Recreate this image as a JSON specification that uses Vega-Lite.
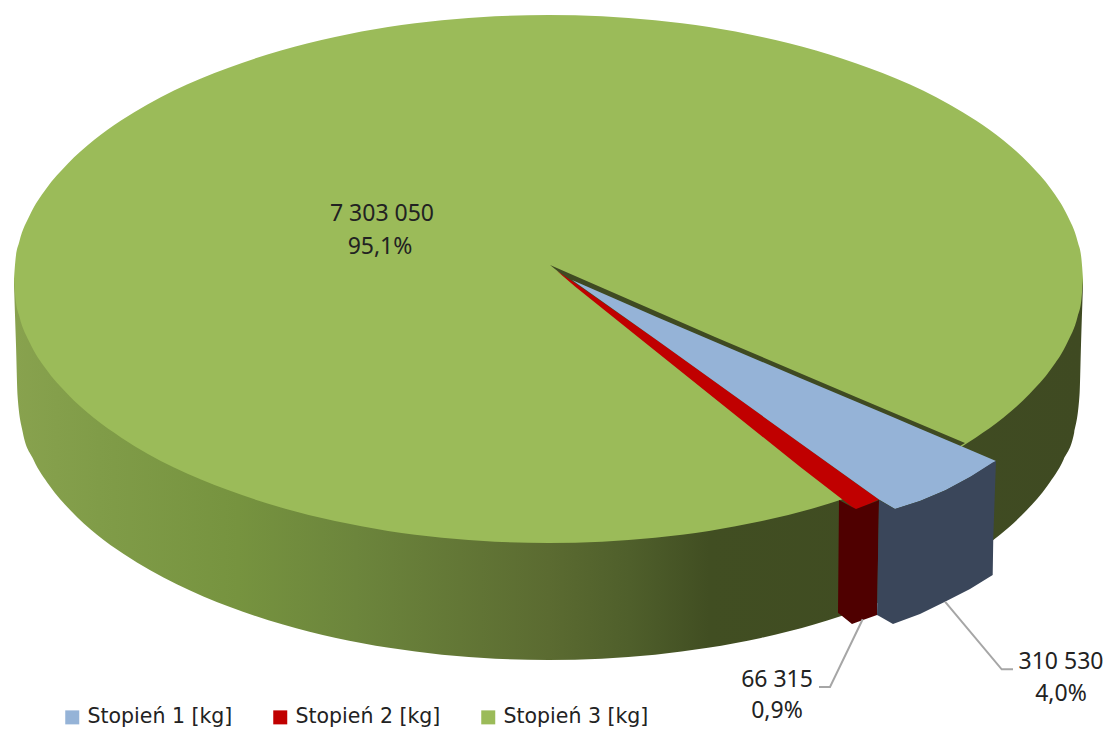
{"$schema":"https://vega.github.io/schema/vega-lite/v6.json","width":1107,"height":729,"padding":0,"autosize":{"type":"fit","contains":"padding"},"background":"white","view":{"stroke":null},
"datasets":{
"sideGreen":[{"x":14,"y":279,"y2":285},{"x":16,"y":279,"y2":345},{"x":17.5,"y":279,"y2":395},{"x":22.8,"y":279,"y2":432.4},{"x":33.4,"y":279,"y2":459.4},{"x":49.4,"y":279,"y2":485.4},{"x":70.6,"y":279,"y2":510.5},{"x":97,"y":279,"y2":534.7},{"x":123.7,"y":279,"y2":554},{"x":176.8,"y":279,"y2":584.2},{"x":230,"y":279,"y2":607},{"x":283,"y":279,"y2":624.5},{"x":336,"y":279,"y2":638},{"x":389,"y":279,"y2":647.8},{"x":442,"y":279,"y2":654.7},{"x":495.4,"y":279,"y2":658.7},{"x":548.5,"y":279,"y2":660},{"x":601.6,"y":279,"y2":658.7},{"x":655,"y":279,"y2":654.7},{"x":708,"y":279,"y2":647.8},{"x":761,"y":279,"y2":638},{"x":814,"y":279,"y2":624.5},{"x":867,"y":279,"y2":607},{"x":920.2,"y":279,"y2":584.2},{"x":973.3,"y":279,"y2":554},{"x":1000,"y":279,"y2":534.7},{"x":1026.4,"y":279,"y2":510.5},{"x":1047.6,"y":279,"y2":485.4},{"x":1063.6,"y":279,"y2":459.4},{"x":1074.2,"y":279,"y2":432.4},{"x":1079.5,"y":279,"y2":395},{"x":1081,"y":279,"y2":345},{"x":1083,"y":279,"y2":285}],
"topGreen":[{"series":"Stopień 3 [kg]","x":14,"y":279,"y2":279},{"series":"Stopień 3 [kg]","x":15.6,"y":258.6,"y2":299.4},{"series":"Stopień 3 [kg]","x":19.3,"y":241.8,"y2":316.2},{"series":"Stopień 3 [kg]","x":30,"y":214.8,"y2":343.2},{"series":"Stopień 3 [kg]","x":46,"y":189,"y2":369},{"series":"Stopień 3 [kg]","x":67.5,"y":164,"y2":394},{"series":"Stopień 3 [kg]","x":94,"y":140,"y2":418},{"series":"Stopień 3 [kg]","x":121,"y":120.6,"y2":437.4},{"series":"Stopień 3 [kg]","x":174,"y":90.5,"y2":467.5},{"series":"Stopień 3 [kg]","x":228,"y":68,"y2":490},{"series":"Stopień 3 [kg]","x":281,"y":50.4,"y2":507.6},{"series":"Stopień 3 [kg]","x":335,"y":37,"y2":521},{"series":"Stopień 3 [kg]","x":388,"y":27.1,"y2":530.9},{"series":"Stopień 3 [kg]","x":442,"y":20.3,"y2":537.7},{"series":"Stopień 3 [kg]","x":495,"y":16.3,"y2":541.7},{"series":"Stopień 3 [kg]","x":548.5,"y":15,"y2":543},{"series":"Stopień 3 [kg]","x":602,"y":16.3,"y2":541.7},{"series":"Stopień 3 [kg]","x":655,"y":20.3,"y2":537.7},{"series":"Stopień 3 [kg]","x":709,"y":27.1,"y2":530.9},{"series":"Stopień 3 [kg]","x":762,"y":37,"y2":521},{"series":"Stopień 3 [kg]","x":816,"y":50.4,"y2":507.6},{"series":"Stopień 3 [kg]","x":869,"y":68,"y2":490},{"series":"Stopień 3 [kg]","x":923,"y":90.5,"y2":467.5},{"series":"Stopień 3 [kg]","x":976,"y":120.6,"y2":437.4},{"series":"Stopień 3 [kg]","x":1003,"y":140,"y2":418},{"series":"Stopień 3 [kg]","x":1029.5,"y":164,"y2":394},{"series":"Stopień 3 [kg]","x":1051,"y":189,"y2":369},{"series":"Stopień 3 [kg]","x":1067,"y":214.8,"y2":343.2},{"series":"Stopień 3 [kg]","x":1077.7,"y":241.8,"y2":316.2},{"series":"Stopień 3 [kg]","x":1081.4,"y":258.6,"y2":299.4},{"series":"Stopień 3 [kg]","x":1083,"y":279,"y2":279}],
"notch":[{"x":550,"y":265,"y2":265},{"x":715,"y":337,"y2":398},{"x":856,"y":397,"y2":509},{"x":965,"y":443,"y2":443}],
"sideRed":[{"x":838,"y":613,"y2":613},{"x":839,"y":500,"y2":613.5},{"x":852,"y":506.9,"y2":624},{"x":856,"y":509,"y2":622.5},{"x":877,"y":501,"y2":615},{"x":879,"y":500,"y2":500}],
"sideBlue":[{"x":877,"y":615,"y2":615},{"x":879,"y":500,"y2":616},{"x":893,"y":508,"y2":624},{"x":895,"y":509,"y2":623.3},{"x":920,"y":501,"y2":614},{"x":945,"y":490.5,"y2":601.7},{"x":970,"y":477,"y2":589},{"x":992.7,"y":462.5,"y2":575},{"x":993.3,"y":462.3,"y2":537},{"x":996,"y":461,"y2":461}],
"topRed":[{"series":"Stopień 2 [kg]","x":557,"y":271,"y2":271},{"series":"Stopień 2 [kg]","x":575,"y":283,"y2":286.6},{"series":"Stopień 2 [kg]","x":656.7,"y":340,"y2":352},{"series":"Stopień 2 [kg]","x":800,"y":443,"y2":466.7},{"series":"Stopień 2 [kg]","x":856,"y":483.3,"y2":510},{"series":"Stopień 2 [kg]","x":879,"y":499.5,"y2":499.5}],
"topBlue":[{"series":"Stopień 1 [kg]","x":572,"y":280,"y2":280},{"series":"Stopień 1 [kg]","x":656.7,"y":317,"y2":340},{"series":"Stopień 1 [kg]","x":800,"y":378,"y2":443},{"series":"Stopień 1 [kg]","x":879,"y":411.3,"y2":499.5},{"series":"Stopień 1 [kg]","x":895,"y":418,"y2":509},{"series":"Stopień 1 [kg]","x":920,"y":428.7,"y2":501},{"series":"Stopień 1 [kg]","x":946,"y":439.7,"y2":490},{"series":"Stopień 1 [kg]","x":972,"y":450.8,"y2":476},{"series":"Stopień 1 [kg]","x":996,"y":461,"y2":461}],
"leaders":[{"leader":"a","step":1,"x":945,"y":601.7},{"leader":"a","step":2,"x":1001.7,"y":669.3},{"leader":"a","step":3,"x":1013,"y":669.3},{"leader":"b","step":1,"x":862.7,"y":619.3},{"leader":"b","step":2,"x":830,"y":687},{"leader":"b","step":3,"x":819,"y":687}],
"labels":[{"label":"7 303 050","x":382,"y":214},{"label":"95,1%","x":380,"y":247},{"label":"66 315","x":777,"y":680},{"label":"0,9%","x":777,"y":711},{"label":"310 530","x":1061,"y":662},{"label":"4,0%","x":1061,"y":694}]
},
"encoding":{
"x":{"field":"x","type":"quantitative","scale":{"domain":[0,1107],"nice":false,"zero":false},"axis":null},
"y":{"field":"y","type":"quantitative","scale":{"domain":[0,729],"reverse":true,"nice":false,"zero":false},"axis":null}
},
"layer":[
{"data":{"name":"sideGreen"},"mark":{"type":"area","interpolate":"monotone","color":{"gradient":"linear","x1":0,"x2":1,"y1":0,"y2":0,"stops":[{"offset":0,"color":"#88a24e"},{"offset":0.08,"color":"#809c48"},{"offset":0.21,"color":"#76933f"},{"offset":0.32,"color":"#6c853c"},{"offset":0.5,"color":"#5b6b31"},{"offset":0.576,"color":"#4f5f2b"},{"offset":0.65,"color":"#414e22"},{"offset":1,"color":"#3f4a22"}]}},"encoding":{"y2":{"field":"y2"}}},
{"data":{"name":"topGreen"},"mark":{"type":"area","interpolate":"monotone"},"encoding":{"y2":{"field":"y2"},"color":{"field":"series","type":"nominal","scale":{"domain":["Stopień 1 [kg]","Stopień 2 [kg]","Stopień 3 [kg]"],"range":["#95b3d7","#c00000","#9bbb59"]},"legend":{"title":null,"orient":"none","legendX":62,"legendY":707,"direction":"horizontal","columns":3,"symbolType":"square","symbolSize":196,"symbolStrokeWidth":0,"labelFont":"DejaVu Sans","labelFontSize":20.5,"labelColor":"#222222","labelOffset":5,"columnPadding":37,"padding":0}}}},
{"data":{"name":"notch"},"mark":{"type":"area","color":"#3f4a22"},"encoding":{"y2":{"field":"y2"}}},
{"data":{"name":"topRed"},"mark":{"type":"area"},"encoding":{"y2":{"field":"y2"},"color":{"field":"series","type":"nominal"}}},
{"data":{"name":"topBlue"},"mark":{"type":"area"},"encoding":{"y2":{"field":"y2"},"color":{"field":"series","type":"nominal"}}},
{"data":{"name":"sideRed"},"mark":{"type":"area","color":"#4f0000"},"encoding":{"y2":{"field":"y2"}}},
{"data":{"name":"sideBlue"},"mark":{"type":"area","color":"#3a465a"},"encoding":{"y2":{"field":"y2"}}},
{"data":{"name":"leaders"},"mark":{"type":"line","color":"#a6a6a6","strokeWidth":2},"encoding":{"detail":{"field":"leader"},"order":{"field":"step","type":"quantitative"}}},
{"data":{"name":"labels"},"mark":{"type":"text","font":"Noto Sans","fontSize":23,"color":"#222222"},"encoding":{"text":{"field":"label"}}}
]}
